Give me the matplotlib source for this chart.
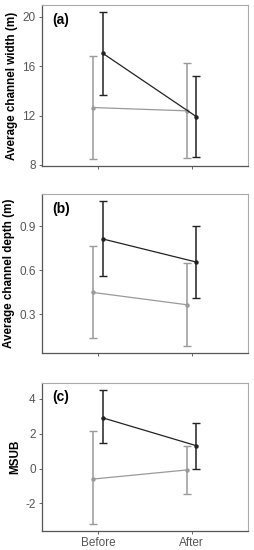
import matplotlib
matplotlib.use("Agg")
import matplotlib.pyplot as plt
import numpy as np

plt.rcParams['font.family'] = ['Liberation Sans', 'DejaVu Sans']

periods = ["Before", "After"]
panel_labels = ["(a)", "(b)", "(c)"]
ylabels = ["Average channel width (m)", "Average channel depth (m)", "MSUB"]

# group 1 (black) and group 2 (grey): mean, lower, upper
width_black = [17.04, 11.91]
width_black_lo = [13.67, 8.63]
width_black_hi = [20.35, 15.2]
width_grey = [12.65, 12.38]
width_grey_lo = [8.5, 8.6]
width_grey_hi = [16.85, 16.22]

depth_black = [0.814, 0.656]
depth_black_lo = [0.558, 0.41]
depth_black_hi = [1.071, 0.90]
depth_grey = [0.448, 0.364]
depth_grey_lo = [0.136, 0.083]
depth_grey_hi = [0.768, 0.65]

msub_black = [2.91, 1.31]
msub_black_lo = [1.45, 0.0]
msub_black_hi = [4.52, 2.62]
msub_grey = [-0.6, -0.08]
msub_grey_lo = [-3.2, -1.46]
msub_grey_hi = [2.14, 1.31]

yticks = [[8, 12, 16, 20], [0.3, 0.6, 0.9], [-2, 0, 2, 4]]
yticklabels = [["8", "12", "16", "20"], ["0.3", "0.6", "0.9"], ["-2", "0", "2", "4"]]

panels = [
    (width_black, width_black_lo, width_black_hi, width_grey, width_grey_lo, width_grey_hi),
    (depth_black, depth_black_lo, depth_black_hi, depth_grey, depth_grey_lo, depth_grey_hi),
    (msub_black, msub_black_lo, msub_black_hi, msub_grey, msub_grey_lo, msub_grey_hi),
]

fig = plt.figure(figsize=(2.54, 5.5), dpi=100)
rects = [
    [0.165, 0.698, 0.811, 0.2927],
    [0.165, 0.358, 0.811, 0.289],
    [0.165, 0.0345, 0.811, 0.269],
]

x = np.arange(1, len(periods) + 1)
dodge = 0.05
black = "#222222"
grey = "#9a9a9a"

for i, (rect, p) in enumerate(zip(rects, panels)):
    ax = fig.add_axes(rect)
    bm, blo, bhi, gm, glo, ghi = [np.array(v, dtype=float) for v in p]
    # grey group
    ax.errorbar(x - dodge, gm, yerr=[gm - glo, ghi - gm], color=grey, lw=0.9,
                elinewidth=1.1, capsize=3.0, capthick=1.0, marker='o', ms=2.2,
                zorder=2)
    # black group
    ax.errorbar(x + dodge, bm, yerr=[bm - blo, bhi - bm], color=black, lw=0.9,
                elinewidth=1.1, capsize=3.0, capthick=1.0, marker='o', ms=2.2,
                zorder=3)
    lo = min(blo.min(), glo.min())
    hi = max(bhi.max(), ghi.max())
    r = hi - lo
    ax.set_ylim(lo - 0.05 * r, hi + 0.05 * r)
    ax.set_xlim(0.4, 2.6)
    ax.set_yticks(yticks[i])
    ax.set_yticklabels(yticklabels[i])
    ax.set_xticks(x)
    if i == 2:
        ax.set_xticklabels(periods)
    else:
        ax.set_xticklabels([])
    ax.tick_params(axis='both', labelsize=8.5, colors="#4d4d4d", length=2.5,
                   width=0.6, pad=2)
    ax.tick_params(axis='both', labelcolor="#555555")
    ax.set_ylabel(ylabels[i], fontsize=8.4, fontweight='bold', labelpad=3)
    for s in ['left', 'bottom']:
        ax.spines[s].set_color("#555555")
        ax.spines[s].set_linewidth(0.9)
    for s in ['top', 'right']:
        ax.spines[s].set_color("#aaaaaa")
        ax.spines[s].set_linewidth(0.8)
    ax.text(0.05, 0.95, panel_labels[i], transform=ax.transAxes, ha='left',
            va='top', fontsize=10, fontweight='bold')

fig.savefig("out.png", dpi=100)
